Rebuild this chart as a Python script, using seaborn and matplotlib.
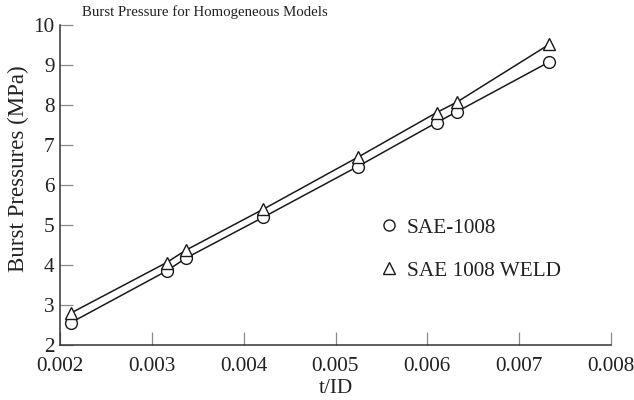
import numpy as np
import pandas as pd
import matplotlib
matplotlib.use("Agg")
import matplotlib.pyplot as plt
import seaborn as sns
from matplotlib.lines import Line2D

# ---- data ----
t_over_id = [0.00212, 0.00316, 0.00337, 0.00421, 0.00524, 0.00610, 0.00632, 0.00733]
sae_1008 = [2.56, 3.85, 4.17, 5.19, 6.46, 7.56, 7.83, 9.08]
sae_1008_weld = [2.80, 4.06, 4.37, 5.39, 6.69, 7.81, 8.07, 9.52]
series_names = ["SAE-1008", "SAE 1008 WELD"]
x_ticks = [0.002, 0.003, 0.004, 0.005, 0.006, 0.007, 0.008]
x_tick_labels = ["0.002", "0.003", "0.004", "0.005", "0.006", "0.007", "0.008"]
y_ticks = [2, 3, 4, 5, 6, 7, 8, 9, 10]

df = pd.DataFrame({
    "t/ID": t_over_id * 2,
    "Burst": sae_1008 + sae_1008_weld,
    "Series": [series_names[0]] * len(t_over_id) + [series_names[1]] * len(t_over_id),
})

sns.set_theme(style="ticks")
plt.rcParams["font.family"] = ["Liberation Serif", "DejaVu Serif"]

fig = plt.figure(figsize=(6.34, 4.0), dpi=100)
ax = fig.add_axes([60 / 634, 1 - 345 / 400, (611 - 60) / 634, (345 - 25) / 400])

markers = {series_names[0]: "o", series_names[1]: "^"}
for name in series_names:
    sub = df[df["Series"] == name]
    sns.lineplot(data=sub, x="t/ID", y="Burst", ax=ax, color="#1a1a1a",
                 linewidth=1.1, marker=markers[name], markersize=8.5,
                 markerfacecolor="white", markeredgecolor="#1a1a1a",
                 markeredgewidth=1.0, legend=False, zorder=3)

ax.set_xlim(0.002, 0.008)
ax.set_ylim(2, 10)
ax.set_xticks(x_ticks)
ax.set_xticklabels(x_tick_labels)
ax.set_yticks(y_ticks)

ax.tick_params(axis="both", direction="in", length=9.5, width=0.9,
               color="#8a8a8a", labelsize=15.3, labelcolor="#222222")
ax.tick_params(axis="x", pad=8.5)
ax.tick_params(axis="y", pad=4)

for s in ["top", "right"]:
    ax.spines[s].set_visible(False)
for s in ["left", "bottom"]:
    ax.spines[s].set_color("#333333")
    ax.spines[s].set_linewidth(1.1)

ax.set_xlabel("t/ID", fontsize=15.3, color="#222222", labelpad=2.5)
ax.set_ylabel("Burst Pressures (MPa)", fontsize=16.5, color="#222222")
ax.yaxis.set_label_coords(-0.056, 0.552)

fig.text(82 / 634, 1 - 12 / 400, "Burst Pressure for Homogeneous Models",
         fontsize=10.7, color="#222222", ha="left", va="center")

handles = [
    Line2D([], [], linestyle="none", marker="o", markersize=8, markerfacecolor="white",
           markeredgecolor="#1a1a1a", markeredgewidth=1.0),
    Line2D([], [], linestyle="none", marker="^", markersize=8, markerfacecolor="white",
           markeredgecolor="#1a1a1a", markeredgewidth=1.0),
]
leg = fig.legend(handles, series_names, loc="upper left",
                 bbox_to_anchor=(378 / 634, 1 - 218 / 400), frameon=False,
                 fontsize=15.3, handlelength=1.0, handletextpad=0.35,
                 labelspacing=1.08, borderpad=0, borderaxespad=0)
for txt in leg.get_texts():
    txt.set_color("#222222")

fig.savefig("out.png", dpi=100)
